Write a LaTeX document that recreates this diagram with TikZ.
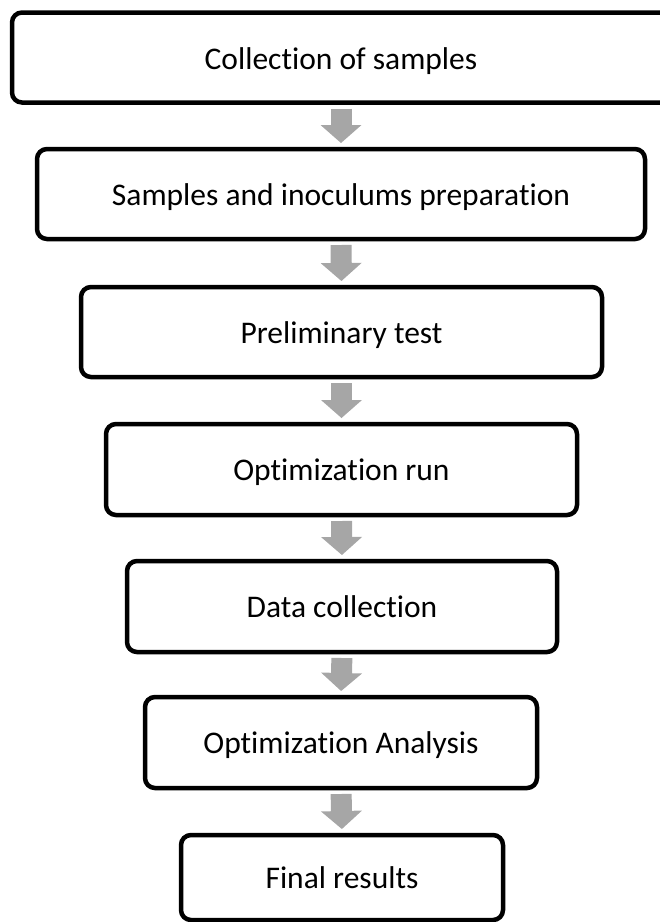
\documentclass[tikz,border=0pt]{standalone}
\usepackage{fontspec}
\setmainfont{Carlito}[Ligatures={NoCommon}]
\usetikzlibrary{arrows.meta,calc}
\definecolor{arrowgray}{RGB}{166,166,166}
\begin{document}
\begin{tikzpicture}[x=1pt,y=-1pt,
  box/.style={draw=black, line width=4.5pt, rounded corners=10pt, fill=white,
    outer sep=0pt, inner sep=0pt, minimum height=90pt},
  txt/.style={font=\fontsize{31.5}{38}\selectfont, text height=28pt, text depth=6pt, inner sep=0pt},
  flow/.style={draw=arrowgray, line width=21pt,
    -{Triangle[width=41pt,length=18pt,line width=0pt]},
    shorten <=6pt, shorten >=6pt}]
\useasboundingbox (0,0) rectangle (660,922);
\clip (0,0) rectangle (660,922);

\node[box, minimum width=663pt] (b1) at (343.5,57.5) {};
\node[txt] (t1) at (341,58.5) {Collection of samples};
\node[box, txt, minimum width=608pt] (b2) at (341,194) {Samples and inoculums preparation};
\node[box, txt, minimum width=521pt] (b3) at (341.5,332) {Preliminary test};
\node[box, txt, minimum width=471pt, minimum height=91pt] (b4) at (341.5,469.5) {Optimization run};
\node[box, txt, minimum width=430pt, minimum height=91pt] (b5) at (342,606.5) {Data collection};
\node[box, txt, minimum width=392pt, minimum height=91pt] (b6) at (341,742.5) {Optimization Analysis};
\node[box, txt, minimum width=322pt, minimum height=85pt] (b7) at (342,877.5) {Final results};

\draw[flow] (b1.south -| b2.north) -- (b2.north);
\draw[flow] (b2.south) -- (b3.north);
\draw[flow] (b3.south) -- (b4.north);
\draw[flow] (b4.south) -- (b5.north);
\draw[flow] (b5.south) -- (b6.north);
\draw[flow] (b6.south) -- (b7.north);
\end{tikzpicture}
\end{document}
